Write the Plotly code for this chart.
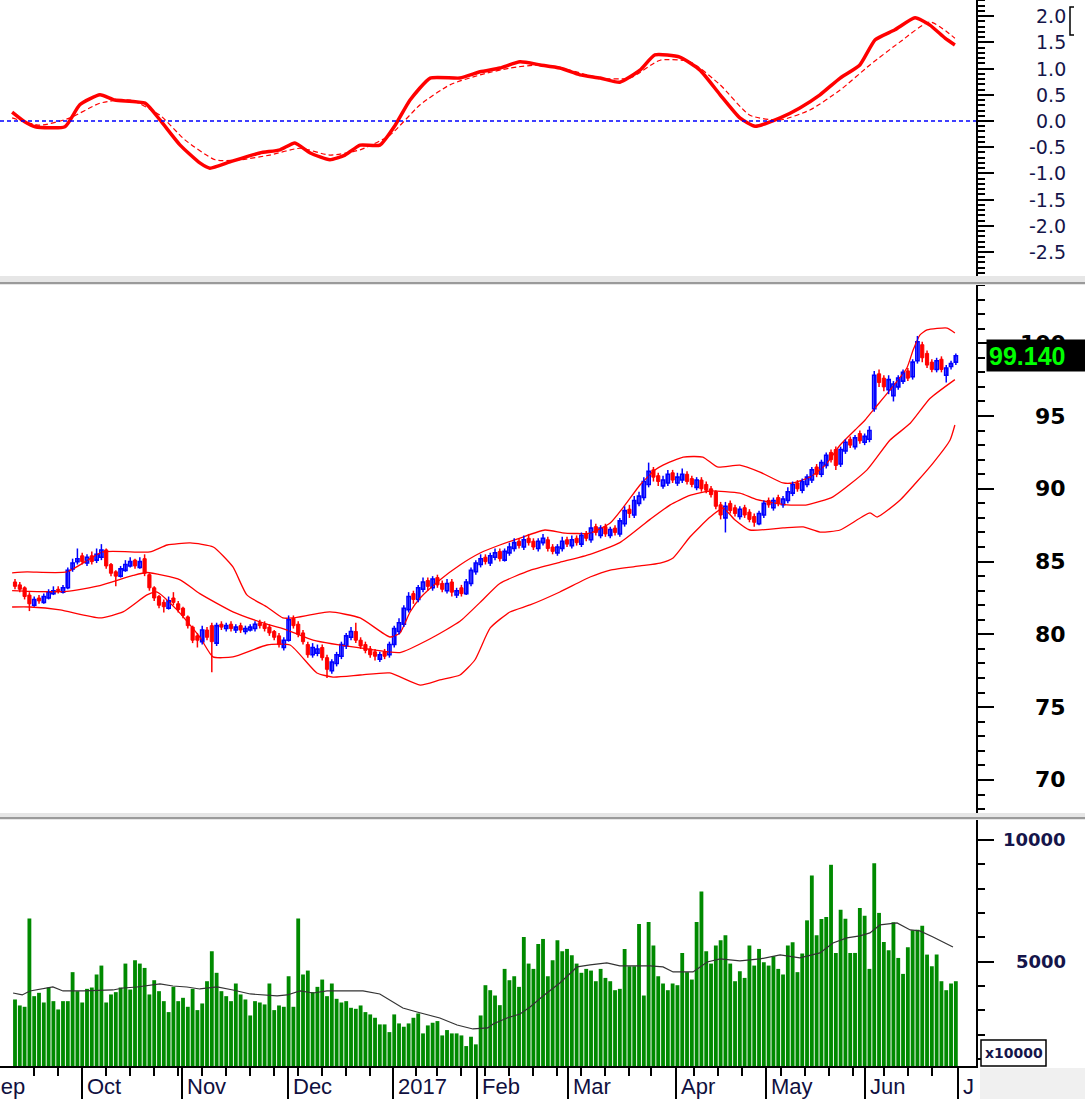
import plotly.graph_objects as go

# ---------------- DATA ----------------
bar_idx = list(range(197))

price_open = [83.6, 83.4, 83.2, 82.7, 82.0, 82.5, 82.2, 82.5, 82.8, 83.1,
 82.9, 83.2, 84.5, 85.0, 85.4, 84.9, 85.4, 85.1, 85.3, 85.8,
 84.8, 84.3, 84.0, 84.4, 84.7, 85.1, 84.6, 85.2, 84.1, 83.2,
 82.6, 82.2, 81.8, 82.5, 82.1, 81.8, 81.2, 80.5, 79.9, 79.5,
 80.3, 80.6, 79.4, 80.7, 80.4, 80.7, 80.3, 80.6, 80.2, 80.3,
 80.4, 80.8, 80.7, 80.5, 80.2, 79.9, 79.1, 79.6, 81.1, 80.7,
 80.1, 79.3, 78.6, 78.7, 79.1, 78.4, 77.5, 78.0, 78.5, 79.2,
 79.8, 80.2, 79.6, 79.3, 79.0, 78.8, 78.3, 78.8, 78.6, 79.3,
 80.2, 80.7, 81.7, 82.8, 82.4, 83.1, 83.7, 83.2, 83.9, 83.5,
 83.0, 83.6, 82.7, 83.2, 82.8, 83.5, 84.3, 84.8, 85.3, 84.9,
 85.3, 85.7, 85.1, 85.6, 85.9, 86.4, 86.0, 86.6, 86.4, 85.9,
 86.3, 86.5, 86.0, 85.6, 85.9, 86.5, 86.1, 86.6, 86.2, 86.9,
 86.5, 87.4, 86.8, 87.4, 86.8, 87.3, 86.9, 87.6, 88.6, 88.2,
 89.0, 89.4, 90.3, 91.3, 90.9, 90.2, 90.4, 91.1, 90.4, 90.6,
 91.0, 90.7, 90.1, 90.6, 90.3, 90.0, 89.8, 88.9, 88.0, 89.0,
 88.7, 88.1, 88.7, 88.4, 88.1, 87.6, 88.2, 89.2, 88.7, 89.4,
 88.9, 89.2, 89.7, 90.4, 89.9, 90.3, 90.6, 91.5, 91.0, 91.6,
 92.5, 92.7, 91.7, 92.6, 93.4, 92.9, 93.8, 93.2, 93.4, 95.5,
 97.9, 97.6, 96.8, 96.4, 97.0, 97.4, 98.1, 97.7, 98.8, 99.9,
 99.3, 98.7, 98.2, 98.9, 97.8, 98.4, 98.7]

price_high = [83.8, 83.6, 83.3, 82.9, 82.6, 82.7, 82.8, 83.1, 83.3, 83.3,
 83.4, 84.6, 85.2, 85.9, 85.6, 85.5, 85.7, 85.9, 86.2, 85.9,
 84.9, 84.4, 84.7, 85.1, 85.3, 85.2, 85.3, 85.5, 84.2, 83.3,
 82.7, 82.4, 82.6, 82.9, 82.3, 81.9, 81.3, 80.6, 80.1, 80.6,
 80.5, 80.8, 80.8, 80.9, 80.8, 80.9, 80.7, 80.8, 80.6, 80.7,
 80.9, 81.0, 80.9, 80.7, 80.3, 80.1, 79.8, 81.3, 81.3, 80.9,
 80.3, 79.5, 79.4, 79.3, 79.3, 78.6, 78.3, 78.8, 79.5, 80.1,
 80.5, 80.8, 79.8, 79.5, 79.2, 79.0, 78.8, 79.0, 79.5, 80.6,
 81.1, 82.0, 82.9, 83.0, 83.4, 83.9, 83.9, 84.0, 84.1, 83.7,
 83.8, 83.8, 83.2, 83.4, 83.8, 84.6, 85.1, 85.5, 85.5, 85.6,
 85.9, 85.9, 85.9, 86.3, 86.6, 86.6, 86.8, 86.9, 86.6, 86.6,
 86.9, 86.7, 86.2, 86.2, 86.7, 86.7, 86.8, 86.8, 87.0, 87.1,
 87.9, 87.6, 87.5, 87.6, 87.4, 87.5, 88.0, 88.8, 88.9, 89.5,
 89.8, 90.8, 91.8, 91.5, 91.1, 90.9, 91.3, 91.3, 91.1, 91.4,
 91.2, 90.9, 90.8, 90.8, 90.5, 90.2, 89.9, 89.1, 89.1, 89.2,
 88.9, 88.8, 88.9, 88.6, 88.3, 88.5, 89.2, 89.4, 89.4, 89.6,
 89.5, 90.1, 90.5, 90.6, 90.7, 91.0, 91.5, 91.7, 92.0, 92.5,
 92.7, 92.9, 92.9, 93.4, 93.6, 93.7, 94.0, 93.8, 94.3, 98.1,
 98.2, 97.8, 97.8, 97.4, 97.8, 98.2, 98.3, 98.9, 100.5, 100.1,
 99.5, 98.9, 99.0, 99.1, 98.5, 98.8, 99.3]

price_low = [83.1, 82.9, 82.4, 81.6, 81.9, 82.1, 82.1, 82.4, 82.7, 82.8,
 82.8, 83.1, 84.3, 84.8, 84.8, 84.7, 84.8, 84.9, 85.1, 84.5,
 84.0, 83.3, 83.9, 84.3, 84.6, 84.5, 84.5, 84.0, 83.0, 82.3,
 81.8, 81.5, 81.7, 82.0, 81.5, 81.1, 80.4, 79.4, 79.1, 79.3,
 79.6, 77.4, 79.2, 80.3, 80.2, 80.2, 80.1, 80.1, 80.0, 80.2,
 80.2, 80.4, 80.2, 79.9, 79.6, 79.1, 78.9, 79.5, 80.4, 79.8,
 79.3, 78.4, 78.4, 78.5, 78.2, 77.0, 77.3, 77.8, 78.3, 79.0,
 79.6, 79.4, 79.0, 78.7, 78.4, 78.2, 78.1, 78.3, 78.4, 79.1,
 80.0, 80.5, 81.5, 82.1, 82.2, 82.9, 83.0, 83.0, 83.2, 82.9,
 82.8, 82.6, 82.5, 82.6, 82.7, 83.3, 84.1, 84.6, 84.8, 84.7,
 85.1, 85.0, 85.0, 85.4, 85.7, 85.9, 85.8, 86.1, 85.8, 85.7,
 86.1, 85.7, 85.5, 85.4, 85.7, 86.0, 85.9, 86.1, 86.0, 86.4,
 86.3, 86.8, 86.6, 86.7, 86.6, 86.8, 86.7, 87.4, 88.0, 88.0,
 88.8, 89.2, 90.1, 90.5, 90.2, 90.0, 90.2, 90.4, 90.2, 90.4,
 90.3, 90.1, 89.9, 89.8, 89.7, 89.4, 88.6, 87.9, 87.0, 88.3,
 88.1, 87.9, 88.0, 87.7, 87.4, 87.5, 88.0, 88.7, 88.5, 88.8,
 88.7, 89.0, 89.5, 89.8, 89.7, 90.1, 90.4, 90.8, 90.8, 91.4,
 91.8, 91.3, 91.5, 92.4, 92.8, 92.7, 93.1, 93.0, 93.2, 95.3,
 97.0, 96.7, 96.5, 96.0, 96.8, 97.2, 97.4, 97.5, 98.6, 98.7,
 98.3, 98.0, 98.0, 98.0, 97.3, 98.2, 98.5]

price_close = [83.3, 83.1, 82.6, 82.1, 82.4, 82.3, 82.6, 82.9, 83.0, 83.0,
 83.2, 84.4, 84.9, 85.2, 85.0, 85.3, 85.0, 85.5, 85.8, 84.7,
 84.2, 84.0, 84.5, 84.8, 85.0, 84.7, 85.0, 84.2, 83.2, 82.5,
 82.0, 81.9, 82.3, 82.2, 81.7, 81.3, 80.6, 79.6, 79.6, 80.3,
 79.8, 79.5, 80.6, 80.5, 80.6, 80.4, 80.5, 80.3, 80.4, 80.5,
 80.7, 80.6, 80.4, 80.1, 79.8, 79.3, 79.6, 81.0, 80.6, 80.0,
 79.5, 78.6, 79.1, 79.0, 78.4, 77.6, 78.1, 78.6, 79.3, 79.9,
 80.2, 79.6, 79.2, 78.9, 78.6, 78.5, 78.6, 78.5, 79.3, 80.4,
 80.8, 81.8, 82.6, 82.4, 83.2, 83.6, 83.3, 83.8, 83.4, 83.1,
 83.5, 82.9, 83.0, 82.8, 83.6, 84.4, 84.9, 85.2, 85.0, 85.4,
 85.6, 85.2, 85.7, 86.0, 86.3, 86.1, 86.5, 86.3, 86.0, 86.4,
 86.6, 85.9, 85.7, 86.0, 86.4, 86.2, 86.5, 86.3, 86.8, 86.6,
 87.3, 87.0, 87.3, 86.9, 87.2, 87.0, 87.8, 88.5, 88.3, 89.2,
 89.5, 90.5, 91.2, 90.8, 90.5, 90.6, 91.0, 90.6, 90.8, 91.0,
 90.5, 90.3, 90.6, 90.0, 89.9, 89.6, 88.8, 88.2, 88.8, 88.5,
 88.3, 88.6, 88.2, 87.9, 87.7, 88.3, 89.0, 88.9, 89.2, 89.0,
 89.3, 89.8, 90.3, 90.0, 90.5, 90.8, 91.3, 91.0, 91.8, 92.3,
 92.0, 91.6, 92.7, 93.2, 93.0, 93.5, 93.3, 93.6, 94.0, 97.8,
 97.3, 97.0, 97.5, 97.2, 97.6, 98.0, 97.6, 98.7, 100.1, 99.0,
 98.5, 98.2, 98.8, 98.2, 98.3, 98.6, 99.14]

volume = [3444, 3198, 3143, 6765, 3580, 3717, 3320, 3935, 3375, 3034,
 3375, 3375, 4566, 3785, 3320, 3880, 3935, 4470, 4836, 3320,
 3650, 3745, 3935, 4918, 3853, 5055, 4918, 4740, 3650, 4235,
 3785, 3375, 2925, 3962, 3375, 3512, 3143, 3880, 3007, 3280,
 4194, 5424, 4539, 3785, 3580, 3375, 4100, 3650, 3444, 2787,
 3375, 3320, 3240, 4100, 3007, 3198, 3143, 4398, 3143, 6765,
 4470, 4631, 3745, 3962, 4262, 3580, 4100, 3471, 3320, 3375,
 3102, 3060, 3198, 2925, 2830, 2692, 2420, 2420, 2103, 2830,
 2460, 2324, 2460, 2692, 2870, 2050, 2378, 2488, 2556, 1967,
 2187, 2050, 2050, 1967, 1530, 1913, 1600, 2787, 4030, 3825,
 3606, 3210, 4700, 4235, 4398, 3962, 6010, 4918, 4700, 5725,
 5930, 4398, 5055, 5875, 5424, 5520, 5260, 4918, 4539, 4700,
 4631, 4194, 4700, 4330, 4194, 3825, 3880, 5520, 4808, 4808,
 6545, 3606, 6626, 5656, 4398, 4100, 3825, 4100, 4030, 5355,
 4566, 4262, 6626, 7880, 5424, 4918, 5656, 5875, 6080, 4918,
 4194, 4604, 4330, 5656, 4836, 5520, 4973, 4836, 5220, 4700,
 4470, 5656, 5793, 4566, 5330, 6694, 8540, 6080, 6750, 6830,
 8976, 5355, 7130, 6760, 5355, 5355, 7200, 6884, 4700, 9044,
 7000, 5806, 5464, 6612, 5150, 4495, 5587, 6284, 6312, 6475,
 5287, 4808, 5287, 4194, 3825, 4100, 4194]

# Bollinger bands (sampled along the bar index)
bb_upper_x = [-0.6, 2.5, 10.8, 18.3, 28.1, 31.7, 36.5, 41.3, 45.4, 48.3, 52.5, 55.8, 57.9, 65.6,
              71.9, 78.1, 80.2, 82.3, 84.4, 88.5, 92.7, 96.9, 101.0, 105.2, 110.4, 114.6, 119.8,
              124.0, 127.1, 130.2, 133.3, 135.0, 139.2, 143.3, 146.3, 151.0, 155.2, 160.0, 162.1,
              165.6, 168.8, 171.9, 175.0, 177.1, 178.8, 182.3, 185.8, 187.1, 188.5, 190.0, 194.2, 195.8]
bb_upper = [84.22, 84.29, 84.29, 85.66, 85.66, 86.14, 86.28, 86.0, 84.63, 82.71, 81.88, 81.13, 81.13, 81.54,
            81.13, 79.82, 80.1, 81.54, 82.5, 83.74, 84.77, 85.59, 86.14, 86.62, 87.17, 86.96, 86.96,
            87.65, 88.89, 90.26, 91.29, 91.63, 92.18, 92.18, 91.5, 91.63, 91.15, 90.4, 90.4,
            90.81, 91.63, 93.01, 94.04, 94.73, 95.41, 96.79, 98.3, 99.53, 100.56, 100.91, 101.04, 100.7]

bb_mid_x = [-0.6, 3.1, 10.8, 17.7, 24.6, 27.5, 34.4, 38.5, 45.4, 52.5, 56.7, 62.1, 73.3, 80.2, 86.5,
            92.7, 96.9, 101.0, 107.3, 113.5, 119.8, 126.0, 132.3, 136.5, 140.6, 144.8, 151.0, 154.6,
            160.8, 165.0, 170.4, 177.5, 182.3, 186.5, 190.6, 195.8]
bb_mid = [83.0, 82.95, 82.95, 83.35, 84.05, 84.25, 83.75, 82.8, 81.55, 80.7, 80.3, 79.6, 79.0, 78.75, 79.7,
          80.9, 82.2, 83.5, 84.4, 84.95, 85.5, 86.3, 87.9, 88.9, 89.55, 89.85, 89.7, 89.25,
          88.9, 88.9, 89.45, 91.3, 93.35, 94.5, 96.2, 97.5]

bb_lower_x = [-0.6, 3.1, 9.4, 17.7, 22.5, 27.5, 29.6, 33.75, 38.5, 41.25, 45.4, 52.5, 57.3, 62.9, 66.25,
              71.9, 78.1, 84.4, 88.5, 92.7, 95.8, 99.0, 103.1, 107.3, 113.5, 119.8, 124.0, 130.2, 134.4,
              137.1, 140.6, 144.8, 147.5, 150.0, 153.1, 160.0, 164.2, 167.7, 171.9, 178.1, 179.6, 184.4,
              191.25, 194.8, 195.8]
bb_lower = [81.88, 81.88, 81.68, 81.13, 81.54, 82.71, 82.91, 81.68, 79.82, 78.45, 78.45, 79.27, 79.27, 77.35, 77.07,
            77.21, 77.35, 76.52, 76.87, 77.21, 78.24, 80.44, 81.54, 82.02, 82.91, 83.94, 84.42, 84.7, 84.9,
            85.25, 86.69, 88.06, 88.68, 87.86, 87.17, 87.31, 87.38, 87.03, 87.17, 88.34, 88.06, 89.23,
            91.77, 93.35, 94.38]

# Oscillator (top panel)
osc_x = [-0.6, 2.1, 4.2, 10.4, 13.5, 17.7, 20.8, 27.1, 30.2, 34.4, 38.5, 40.6, 44.8, 51.0, 55.2, 58.3,
         61.5, 65.6, 68.75, 71.9, 76.0, 79.2, 82.3, 86.5, 92.7, 96.9, 101.0, 105.2, 109.4, 113.5, 117.7,
         121.9, 126.0, 130.2, 133.3, 138.5, 142.7, 146.9, 151.0, 154.2, 159.4, 163.5, 167.7, 171.9,
         176.0, 179.2, 183.3, 187.5, 190.6, 193.75, 195.8]
osc = [0.17, -0.02, -0.11, -0.11, 0.31, 0.5, 0.4, 0.34, 0.02, -0.46, -0.8, -0.9, -0.78, -0.61, -0.55, -0.42,
       -0.61, -0.74, -0.65, -0.46, -0.46, -0.08, 0.4, 0.82, 0.82, 0.94, 1.01, 1.13, 1.07, 1.01, 0.88,
       0.82, 0.74, 0.97, 1.26, 1.22, 0.97, 0.5, 0.06, -0.1, 0.06, 0.25, 0.5, 0.82,
       1.07, 1.55, 1.74, 1.97, 1.83, 1.58, 1.45]

sig_x = [-0.6, 5.2, 11.5, 17.7, 24.0, 30.2, 35.4, 41.7, 46.9, 53.1, 59.4, 65.6, 71.9, 78.1, 84.4, 90.6,
         96.9, 103.1, 109.4, 115.6, 121.9, 128.1, 134.4, 140.6, 146.9, 153.1, 159.4, 165.6, 171.9,
         178.1, 184.4, 190.6, 195.8]
sig = [0.06, -0.08, 0.06, 0.34, 0.4, 0.11, -0.36, -0.74, -0.74, -0.65, -0.52, -0.65, -0.55, -0.27, 0.31, 0.69,
       0.88, 1.01, 1.07, 0.97, 0.82, 0.82, 1.16, 1.13, 0.69, 0.11, 0.02, 0.21, 0.59,
       1.07, 1.51, 1.89, 1.58]

# Volume moving average
vma_x = [-0.4, 1.5, 3.1, 5.8, 7.9, 10.0, 14.2, 20.4, 22.5, 25.4, 27.5, 30.2, 32.9, 35.8, 38.5, 42.1,
         45.4, 49.0, 54.6, 56.7, 59.4, 62.1, 65.0, 72.5, 76.0, 78.75, 80.8, 83.75, 88.5, 92.1, 95.4,
         98.5, 99.6, 102.5, 105.2, 107.3, 110.0, 113.5, 117.1, 119.8, 123.3, 126.0, 132.3, 135.0,
         137.1, 141.25, 144.2, 146.9, 151.0, 155.2, 159.4, 163.5, 167.7, 170.4, 173.3, 176.0, 178.1,
         180.2, 183.75, 186.5, 188.5, 191.25, 195.4]
vma = [3711, 3629, 3793, 3875, 3957, 3793, 3793, 3834, 3916, 3957, 3998, 4080, 3998, 3957, 3875, 3957,
       3834, 3670, 3588, 3629, 3793, 3711, 3793, 3793, 3670, 3341, 3095, 2930, 2684, 2396, 2232,
       2273, 2437, 2684, 2848, 3136, 3588, 4122, 4780, 4862, 4944, 4821, 4821, 4780,
       4574, 4574, 4985, 5109, 5026, 5109, 5273, 5150, 5355, 5766, 5972, 6054, 6177,
       6506, 6588, 6300, 6259, 6013, 5602]

# Axis labels
month_text = ["Sep", "Oct", "Nov", "Dec", "2017", "Feb", "Mar", "Apr", "May", "Jun", "J"]
month_pos = [-7.0, 14.0, 34.8, 56.9, 78.8, 96.3, 115.1, 137.6, 156.5, 177.0, 196.4]
week_pos = [4, 9, 19, 24, 29, 34, 39, 44, 49, 54, 59, 64, 69, 74, 83.5, 88, 93, 98, 103, 108,
            113, 118, 123, 128, 132.5, 141.5, 146.5, 151.5, 159.5, 164.5, 169.5, 174.5, 181, 186, 191]
osc_tick_vals = [2.0, 1.5, 1.0, 0.5, 0.0, -0.5, -1.0, -1.5, -2.0, -2.5]
price_tick_vals = [100, 95, 90, 85, 80, 75, 70]
vol_tick_vals = [10000, 5000]
vol_unit = "x10000"

# ---------------- FIGURE ----------------
W, H = 1085, 1099
ML, MR, MT, MB = 0, 109, 0, 33
PW, PH = W - ML - MR, H - MT - MB          # plot area 976 x 1066
XR = [-3.125, 200.2]

def pxx(px):   # page x pixel -> paper
    return px / PW

def pxy(py):   # page y pixel -> paper
    return 1 - py / PH

RED = "#ff0000"
BLUE = "#0000ff"
NAVY = "#15154a"

fig = go.Figure()

# top oscillator
fig.add_trace(go.Scatter(x=sig_x, y=sig, mode="lines", yaxis="y",
                         line=dict(color=RED, width=1.2, dash="5px,3px", shape="spline", smoothing=0.6),
                         hoverinfo="skip", showlegend=False))
fig.add_trace(go.Scatter(x=osc_x, y=osc, mode="lines", yaxis="y",
                         line=dict(color=RED, width=3.5, shape="spline", smoothing=0.5),
                         hoverinfo="skip", showlegend=False))

# bollinger
for bx, by in [(bb_upper_x, bb_upper), (bb_mid_x, bb_mid), (bb_lower_x, bb_lower)]:
    fig.add_trace(go.Scatter(x=bx, y=by, mode="lines", yaxis="y2",
                             line=dict(color=RED, width=1.3, shape="spline", smoothing=0.5),
                             hoverinfo="skip", showlegend=False))

# candles: wicks then bodies
up = [i for i in bar_idx if price_close[i] >= price_open[i]]
dn = [i for i in bar_idx if price_close[i] < price_open[i]]
for idxs, col in [(up, BLUE), (dn, RED)]:
    wx, wy = [], []
    for i in idxs:
        wx += [i, i, None]
        wy += [price_low[i], price_high[i], None]
    fig.add_trace(go.Scatter(x=wx, y=wy, mode="lines", yaxis="y2", line=dict(color=col, width=1.5),
                             hoverinfo="skip", showlegend=False))
MINB = 0.09
fig.add_trace(go.Bar(x=up, y=[max(price_close[i] - price_open[i], MINB) for i in up],
                     base=[price_open[i] for i in up], yaxis="y2", width=0.66,
                     marker=dict(color="white", line=dict(color=BLUE, width=1.6)),
                     hoverinfo="skip", showlegend=False))
fig.add_trace(go.Bar(x=dn, y=[max(price_open[i] - price_close[i], MINB) for i in dn],
                     base=[price_close[i] for i in dn], yaxis="y2", width=0.66,
                     marker=dict(color=RED, line=dict(color=RED, width=1.0)),
                     hoverinfo="skip", showlegend=False))

# volume
fig.add_trace(go.Bar(x=bar_idx, y=volume, yaxis="y3", width=0.8,
                     marker=dict(color="#008a00", line=dict(width=0)),
                     hoverinfo="skip", showlegend=False))
fig.add_trace(go.Scatter(x=vma_x, y=vma, mode="lines", yaxis="y3",
                         line=dict(color="#333333", width=1.2), hoverinfo="skip", showlegend=False))

common_y = dict(side="right", anchor="x", showline=True, linecolor="black", linewidth=2,
                ticks="outside", ticklen=16, tickwidth=2, tickcolor="black",
                showticklabels=False, showgrid=False, zeroline=False, fixedrange=True)

fig.update_layout(
    width=W, height=H,
    margin=dict(l=ML, r=MR, t=MT, b=MB, pad=0),
    paper_bgcolor="white", plot_bgcolor="white",
    showlegend=False, barmode="overlay",
    xaxis=dict(domain=[0, 1], range=XR, anchor="y3", showline=True, linecolor="black", linewidth=2,
               ticks="outside", tickmode="array", tickvals=month_pos, ticklen=33, tickwidth=2,
               tickcolor="black", showticklabels=False, showgrid=False, zeroline=False,
               fixedrange=True,
               minor=dict(tickmode="array", tickvals=week_pos, ticklen=8, tickwidth=2,
                          tickcolor="black", ticks="outside")),
    yaxis=dict(domain=[1 - 276 / PH, 1], range=[-2.958, 2.309], dtick=0.5, tick0=0,
               minor=dict(dtick=0.1, tick0=0, ticklen=7, tickwidth=2, tickcolor="black", ticks="outside"),
               **common_y),
    yaxis2=dict(domain=[1 - 813 / PH, 1 - 285 / PH], range=[67.73, 104.0], dtick=5, tick0=0,
                minor=dict(dtick=1, tick0=0, ticklen=7, tickwidth=2, tickcolor="black", ticks="outside"),
                **common_y),
    yaxis3=dict(domain=[0, 1 - 820 / PH], range=[711, 10816], dtick=5000, tick0=0,
                minor=dict(dtick=1000, tick0=0, ticklen=7, tickwidth=2, tickcolor="black", ticks="outside"),
                **common_y),
)

shapes = []
# zero line of oscillator
shapes.append(dict(type="line", xref="paper", yref="y", x0=0, x1=1, y0=0, y1=0,
                   line=dict(color=BLUE, width=1.5, dash="4px,3px")))
# panel separators
for top, bot in [(276, 285), (813, 820)]:
    shapes.append(dict(type="rect", xref="paper", yref="paper", x0=0, x1=1.2,
                       y0=pxy(bot), y1=pxy(top), fillcolor="#e6e6e6", line=dict(width=0), layer="above"))
    shapes.append(dict(type="line", xref="paper", yref="paper", x0=0, x1=1.2,
                       y0=pxy(bot - 2), y1=pxy(bot - 2), line=dict(color="#9a9a9a", width=2), layer="above"))
# bottom right grey area
shapes.append(dict(type="rect", xref="paper", yref="paper", x0=pxx(980), x1=1.2,
                   y0=pxy(1110), y1=pxy(1068), fillcolor="#f0f0f0", line=dict(width=0)))
# unit box
shapes.append(dict(type="rect", xref="paper", yref="paper", x0=pxx(981), x1=pxx(1046),
                   y0=pxy(1066), y1=pxy(1040), fillcolor="white", line=dict(color="black", width=1.5)))
# bracket near top label
shapes.append(dict(type="path", xref="paper", yref="paper",
                   path=f"M {pxx(1074)} {pxy(7)} L {pxx(1070)} {pxy(7)} L {pxx(1070)} {pxy(35)} L {pxx(1074)} {pxy(35)}",
                   line=dict(color="black", width=1.5)))

ann = []
LAB_X = pxx(1068)
for v in osc_tick_vals:
    ann.append(dict(x=LAB_X, xref="paper", y=v, yref="y", text=f"{v:.1f}", xanchor="right", yanchor="middle",
                    showarrow=False, font=dict(family="DejaVu Sans", size=19, color=NAVY)))
for v in price_tick_vals:
    ann.append(dict(x=LAB_X, xref="paper", y=v, yref="y2", text=f"<b>{v}</b>", xanchor="right", yanchor="middle",
                    showarrow=False, font=dict(family="DejaVu Sans", size=22, color="black")))
for v in vol_tick_vals:
    ann.append(dict(x=LAB_X, xref="paper", y=v, yref="y3", text=f"<b>{v}</b>", xanchor="right", yanchor="middle",
                    showarrow=False, font=dict(family="DejaVu Sans", size=18, color=NAVY)))
# last price box
last = price_close[-1]
ann.append(dict(x=pxx(986), xref="paper", y=last, yref="y2", text=f"<b>{last:.3f}</b>", xanchor="left",
                yanchor="middle", showarrow=False, bgcolor="black", width=100, height=27, borderpad=2,
                align="left", font=dict(family="Liberation Sans", size=25, color="#00ff00")))
# unit label
ann.append(dict(x=pxx(1013.5), xref="paper", y=pxy(1053), yref="paper", text=f"<b>{vol_unit}</b>",
                xanchor="center", yanchor="middle", showarrow=False,
                font=dict(family="DejaVu Sans", size=14, color=NAVY)))
# month labels
for t, p in zip(month_text, month_pos):
    ann.append(dict(x=(p - XR[0]) / (XR[1] - XR[0]), xref="paper", y=pxy(1086), yref="paper", text=t,
                    xanchor="left", yanchor="middle", xshift=3, showarrow=False,
                    font=dict(family="Liberation Sans", size=22, color="#101040")))

fig.update_layout(shapes=shapes, annotations=ann)

fig.write_html("out.html", config={"displayModeBar": False},
               post_script="document.body.style.margin='0';document.body.style.overflow='hidden';")
